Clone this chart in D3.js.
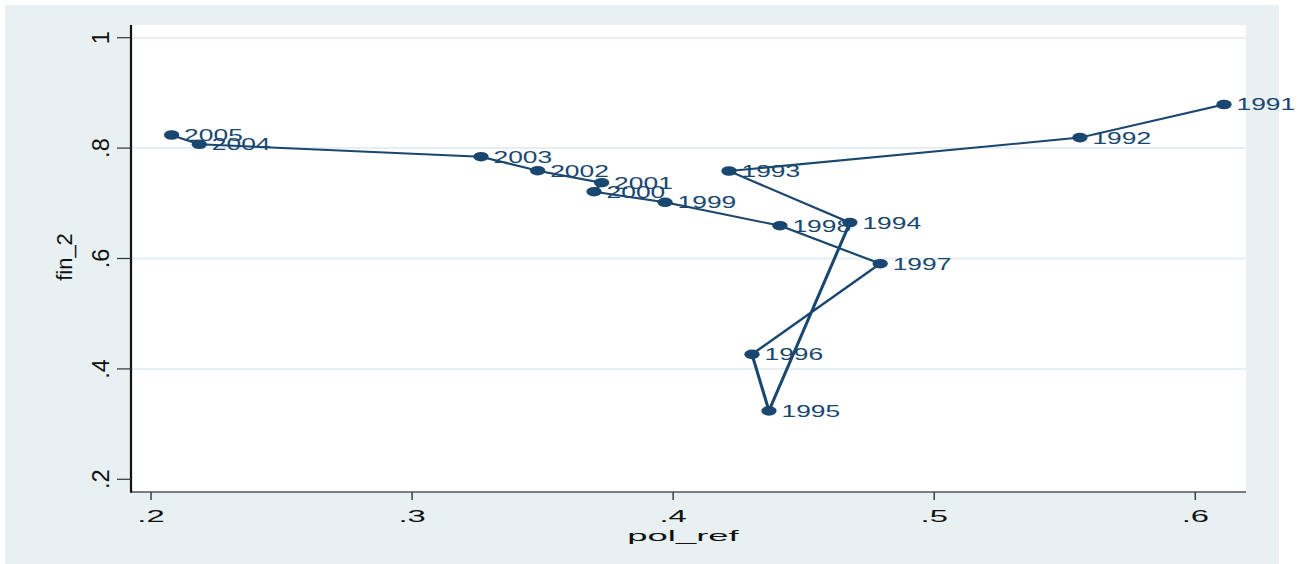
<!DOCTYPE html>
<html>
<head>
<meta charset="utf-8">
<script src="https://cdn.jsdelivr.net/npm/d3@7"></script>
<style>
  html, body { margin: 0; padding: 0; background: #ffffff; }
  svg { display: block; }
  text { font-family: "Liberation Sans", Arial, Helvetica, sans-serif; }
</style>
</head>
<body>
<svg id="chart" width="1308" height="564"></svg>
<script>
// Yearly observations: policy reform index vs. financial index
const years  = [1991, 1992, 1993, 1994, 1995, 1996, 1997, 1998, 1999, 2000, 2001, 2002, 2003, 2004, 2005];
const polRef = [0.611, 0.5558, 0.4214, 0.4677, 0.4367, 0.4302, 0.4793, 0.4409, 0.3969, 0.3697, 0.3726, 0.3481, 0.3264, 0.2185, 0.2079];
const fin2   = [0.879, 0.819, 0.7585, 0.665, 0.324, 0.4264, 0.5906, 0.6594, 0.7018, 0.721, 0.7373, 0.7591, 0.7844, 0.8069, 0.8237];

const xTicks = [0.2, 0.3, 0.4, 0.5, 0.6];
const yTicks = [0.2, 0.4, 0.6, 0.8, 1];
const xTitle = "pol_ref";
const yTitle = "fin_2";

const svg = d3.select("#chart");

// graph region and plot region
const outer = { x0: 5, y0: 5, x1: 1279, y1: 564 };
const plot  = { x0: 131, y0: 25, x1: 1246, y1: 492 };

const navy = "#1a476f";
const bg = "#e8f0f2";
const SX = 1.6; // horizontal stretch applied to the marks layer

const x = d3.scaleLinear().domain([0.2, 0.6]).range([151, 1195.3]);
const y = d3.scaleLinear().domain([0.2, 1]).range([479.3, 37.7]);

const fmt = v => v === 1 ? "1" : d3.format(".1f")(v).replace(/^0/, "");

svg.append("rect").attr("x", outer.x0).attr("y", outer.y0)
  .attr("width", outer.x1 - outer.x0).attr("height", outer.y1 - outer.y0)
  .attr("fill", bg);

svg.append("rect").attr("x", plot.x0).attr("y", plot.y0)
  .attr("width", plot.x1 - plot.x0).attr("height", plot.y1 - plot.y0)
  .attr("fill", "#ffffff");

// horizontal grid lines (none at the bottom edge)
svg.append("g").selectAll("line")
  .data(yTicks.filter(v => v > 0.2))
  .join("line")
  .attr("x1", plot.x0).attr("x2", plot.x1)
  .attr("y1", d => y(d)).attr("y2", d => y(d))
  .attr("stroke", "#e6eef1").attr("stroke-width", 2);

// axis lines
svg.append("line").attr("x1", plot.x0).attr("x2", plot.x1)
  .attr("y1", plot.y1).attr("y2", plot.y1)
  .attr("stroke", "#555").attr("stroke-width", 1.4);
svg.append("line").attr("x1", plot.x0).attr("x2", plot.x0)
  .attr("y1", plot.y0).attr("y2", plot.y1 + 0.7)
  .attr("stroke", "#111").attr("stroke-width", 2.2);

// x ticks and labels
const gx = svg.append("g");
gx.selectAll("line").data(xTicks).join("line")
  .attr("x1", d => x(d)).attr("x2", d => x(d))
  .attr("y1", plot.y1).attr("y2", plot.y1 + 8)
  .attr("stroke", "#333").attr("stroke-width", 1.4);
gx.selectAll("text").data(xTicks).join("text")
  .attr("transform", d => `translate(${x(d)},522) scale(2.05,1)`)
  .attr("text-anchor", "middle")
  .attr("font-size", 16)
  .attr("fill", "#111")
  .text(fmt);

// y ticks and labels (vertical)
const gy = svg.append("g");
gy.selectAll("line").data(yTicks).join("line")
  .attr("x1", plot.x0 - 14).attr("x2", plot.x0)
  .attr("y1", d => y(d)).attr("y2", d => y(d))
  .attr("stroke", "#333").attr("stroke-width", 1.2);
gy.selectAll("text").data(yTicks).join("text")
  .attr("transform", d => `translate(108.5,${y(d)}) rotate(-90)`)
  .attr("text-anchor", "middle")
  .attr("font-size", 23.5)
  .attr("fill", "#111")
  .text(fmt);

// axis titles
svg.append("text")
  .attr("transform", `translate(683,540.5) scale(2.35,1)`)
  .attr("text-anchor", "middle")
  .attr("font-size", 15.5)
  .attr("fill", "#111")
  .text(xTitle);
svg.append("text")
  .attr("transform", `translate(72,257) rotate(-90)`)
  .attr("text-anchor", "middle")
  .attr("font-size", 22)
  .attr("fill", "#111")
  .text(yTitle);

// connected scatter, drawn in a horizontally stretched layer
const pts = years.map((yr, i) => ({ yr, px: polRef[i], fy: fin2[i] }));
const marks = svg.append("g").attr("transform", `scale(${SX},1)`);

marks.append("path")
  .datum(pts)
  .attr("fill", "none")
  .attr("stroke", navy)
  .attr("stroke-width", 2)
  .attr("stroke-linejoin", "round")
  .attr("d", d3.line().x(d => x(d.px) / SX).y(d => y(d.fy)));

marks.selectAll("circle").data(pts).join("circle")
  .attr("cx", d => x(d.px) / SX)
  .attr("cy", d => y(d.fy))
  .attr("r", 4.8)
  .attr("fill", navy);

marks.selectAll("text.lab").data(pts).join("text")
  .attr("class", "lab")
  .attr("x", d => x(d.px) / SX + 12.5 / SX)
  .attr("y", d => y(d.fy) + 6)
  .attr("font-size", 16.5)
  .attr("fill", navy)
  .text(d => d.yr);
</script>
</body>
</html>
